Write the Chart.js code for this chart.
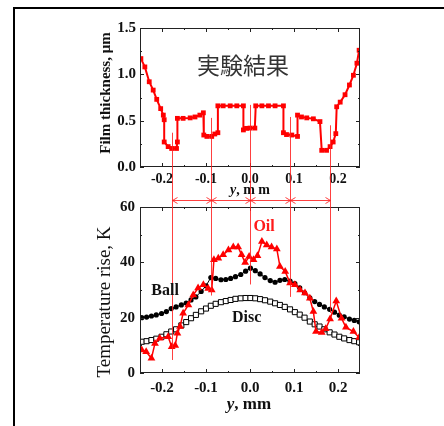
<!DOCTYPE html>
<html><head><meta charset="utf-8">
<script src="https://cdn.jsdelivr.net/npm/chart.js@4"></script>
<style>
html,body{margin:0;padding:0;background:#fff;}
#wrap{position:relative;width:444px;height:426px;overflow:hidden;background:#fff;}
#frame{position:absolute;left:13px;top:7px;width:600px;height:600px;border-top:2px solid #000;border-left:2px solid #000;}
canvas{position:absolute;left:0;top:0;}
</style></head><body>
<div id="wrap"><div id="frame"></div><canvas id="c1" width="444" height="426"></canvas><canvas id="c2" width="444" height="426"></canvas></div>
<script>
// ---- data ----
const filmX = [-0.248,-0.239,-0.229,-0.220,-0.212,-0.203,-0.197,-0.195,-0.195,-0.186,-0.178,-0.167,-0.165,-0.165,-0.152,-0.136,-0.125,-0.114,-0.106,-0.105,-0.098,-0.087,-0.080,-0.073,-0.073,-0.061,-0.045,-0.030,-0.015,-0.015,-0.008,0.000,0.011,0.013,0.027,0.042,0.057,0.076,0.076,0.083,0.095,0.108,0.108,0.117,0.129,0.144,0.159,0.163,0.174,0.182,0.189,0.195,0.197,0.205,0.216,0.226,0.235,0.243,0.248];
const filmY = [1.17,1.08,0.92,0.83,0.73,0.63,0.56,0.51,0.27,0.22,0.20,0.20,0.27,0.525,0.525,0.53,0.54,0.56,0.585,0.345,0.33,0.33,0.356,0.37,0.66,0.66,0.66,0.66,0.66,0.40,0.417,0.42,0.42,0.66,0.66,0.66,0.66,0.66,0.37,0.35,0.345,0.33,0.56,0.54,0.53,0.52,0.49,0.18,0.18,0.22,0.27,0.36,0.65,0.70,0.78,0.885,0.99,1.12,1.26];

const oilX = [-0.246,-0.236,-0.224,-0.216,-0.205,-0.186,-0.178,-0.170,-0.165,-0.159,-0.152,-0.140,-0.129,-0.118,-0.106,-0.095,-0.087,-0.082,-0.072,-0.061,-0.049,-0.038,-0.027,-0.019,-0.011,-0.002,0.008,0.017,0.027,0.038,0.049,0.061,0.068,0.080,0.091,0.102,0.114,0.125,0.136,0.144,0.150,0.163,0.172,0.182,0.196,0.208,0.218,0.235,0.248];
const oilY = [8.3,7.7,5.3,10.7,12.6,13.1,9.5,9.9,14.4,16.8,21.6,24.6,28.2,30.7,31.9,30.5,30.0,40.9,41.5,42.7,44.5,45.5,45.5,42.7,39.9,42.1,40.9,42.4,47.5,46.3,45.5,44.8,38.5,36.7,32.5,31.9,30.0,28.9,27.0,22.2,15.0,14.6,16.0,19.5,26.0,19.8,16.5,15.0,12.8];

const ballX = [-0.246,-0.235,-0.224,-0.213,-0.201,-0.190,-0.179,-0.168,-0.156,-0.145,-0.134,-0.123,-0.111,-0.100,-0.089,-0.078,-0.066,-0.055,-0.044,-0.033,-0.021,-0.010,0.001,0.012,0.023,0.034,0.046,0.057,0.068,0.079,0.091,0.102,0.113,0.124,0.136,0.147,0.158,0.169,0.181,0.192,0.203,0.214,0.226,0.237,0.248];
const ballY = [20.0,20.2,20.6,21.0,21.5,22.2,23.3,23.9,24.6,25.3,26.4,27.5,29.5,31.5,34.5,34.2,33.7,33.8,34.2,34.8,35.6,36.8,37.9,37.0,35.8,34.5,33.4,32.8,33.5,33.8,33.2,32.3,30.8,29.0,27.2,25.8,24.8,23.9,23.0,22.0,20.9,20.3,19.5,19.0,18.5];

const discX = [-0.246,-0.235,-0.224,-0.213,-0.201,-0.190,-0.179,-0.168,-0.156,-0.145,-0.134,-0.123,-0.111,-0.100,-0.089,-0.078,-0.066,-0.055,-0.044,-0.033,-0.021,-0.010,0.001,0.012,0.023,0.034,0.046,0.057,0.068,0.079,0.091,0.102,0.113,0.124,0.136,0.147,0.158,0.169,0.181,0.192,0.203,0.214,0.226,0.237,0.248];
const discY = [11.3,11.5,11.9,12.4,13.1,14.0,15.0,15.8,17.2,18.4,19.8,21.0,22.3,23.3,24.3,25.0,25.6,26.0,26.4,26.8,27.0,27.1,27.1,27.0,26.7,26.3,25.8,25.2,24.6,23.9,23.0,22.0,21.1,20.0,18.6,17.6,16.8,15.8,14.7,13.9,13.1,12.5,11.9,11.5,11.1];

const xTickLabels = [-0.2,-0.1,0.0,0.1,0.2];
const filmTicks = [0,0.5,1.0,1.5];
const tempTicks = [0,20,40,60];

// vertical guide lines: x position, start on film axis, end on temperature axis
const guideX = [-0.177,-0.088,0.0,0.09,0.182];
const guideTop = [0.37,0.53,0.67,0.54,0.45];
const guideBottom = [4.7,28,32,27.5,21.7];
const arrowLevel = 62.4; // on temperature axis (above plot)

const pts = (xs, ys) => xs.map((x, i) => ({x, y: ys[i]}));
const SERIF = '"Liberation Serif","Times New Roman",serif';

function frameTicks(chart, xMaj, xMin, yMaj, yMin) {
  const {ctx, chartArea: a, scales: {x, y}} = chart;
  ctx.save();
  ctx.strokeStyle = '#222'; ctx.lineWidth = 1;
  ctx.strokeRect(Math.round(a.left) + 0.5, Math.round(a.top) + 0.5, Math.round(a.right - a.left) - 1, Math.round(a.bottom - a.top) - 1);
  ctx.beginPath();
  const vx = (v, L) => { const p = Math.round(x.getPixelForValue(v)) + 0.5;
    ctx.moveTo(p, a.bottom); ctx.lineTo(p, a.bottom - L); ctx.moveTo(p, a.top); ctx.lineTo(p, a.top + L); };
  const vy = (v, L) => { const p = Math.round(y.getPixelForValue(v)) + 0.5;
    ctx.moveTo(a.left, p); ctx.lineTo(a.left + L, p); ctx.moveTo(a.right, p); ctx.lineTo(a.right - L, p); };
  xMaj.forEach(v => vx(v, 4)); xMin.forEach(v => vx(v, 2));
  yMaj.forEach(v => vy(v, 4)); yMin.forEach(v => vy(v, 2));
  ctx.stroke();
  ctx.restore();
}

function mixedTitle(ctx, cx, cy, size, rest) {
  const a = 'y', b = rest;
  ctx.save();
  ctx.fillStyle = '#111'; ctx.textBaseline = 'middle'; ctx.textAlign = 'left';
  ctx.font = `italic bold ${size}px ${SERIF}`; const wa = ctx.measureText(a).width;
  ctx.font = `bold ${size}px ${SERIF}`; const wb = ctx.measureText(b).width;
  const x0 = cx - (wa + wb) / 2;
  ctx.font = `italic bold ${size}px ${SERIF}`; ctx.fillText(a, x0, cy);
  ctx.font = `bold ${size}px ${SERIF}`; ctx.fillText(b, x0 + wa, cy);
  ctx.restore();
}

function fixedTicks(list) { return s => { s.ticks = list.map(v => ({value: v})); }; }

const topPlugin = {
  id: 'topDeco',
  afterDatasetsDraw(chart) {
    frameTicks(chart, xTickLabels, [-0.15,-0.05,0.05,0.15], filmTicks, [0.25,0.75,1.25]);
    const {ctx, scales: {x, y}} = chart;
    ctx.save();
    ctx.fillStyle = '#333';
    ctx.font = '23px "Noto Sans CJK JP", sans-serif';
    ctx.textAlign = 'center'; ctx.textBaseline = 'middle';
    ctx.fillText('実験結果', x.getPixelForValue(-0.016), y.getPixelForValue(1.10));
    // y title
    ctx.translate(106, 93); ctx.rotate(-Math.PI / 2);
    ctx.fillStyle = '#111';
    ctx.font = `bold 15px ${SERIF}`;
    ctx.fillText('Film thickness, \u03bcm', 0, 0);
    ctx.restore();
    mixedTitle(ctx, 250, 190, 14, ', m m');
  }
};

const topChart = new Chart(document.getElementById('c1'), {
  type: 'scatter',
  data: { datasets: [{
    data: pts(filmX, filmY), showLine: true, borderColor: '#ff0000', backgroundColor: '#ff0000',
    borderWidth: 2, pointStyle: 'rect', pointRadius: 3.4, pointBorderWidth: 0
  }]},
  options: {
    responsive: false, animation: false, devicePixelRatio: 1,
    layout: { padding: { left: 97, right: 84, top: 28, bottom: 239 } },
    plugins: { legend: { display: false }, tooltip: { enabled: false } },
    scales: {
      x: { type: 'linear', min: -0.25, max: 0.25, afterBuildTicks: fixedTicks(xTickLabels),
           afterFit: s => { s.height = 20; },
           grid: { display: false, drawTicks: false }, border: { display: false },
           ticks: { padding: 4, color: '#111', font: { family: SERIF, size: 14, weight: 'bold' }, callback: v => v.toFixed(1) } },
      y: { min: 0, max: 1.5, afterBuildTicks: fixedTicks(filmTicks),
           afterFit: s => { s.width = 43; },
           grid: { display: false, drawTicks: false }, border: { display: false },
           ticks: { padding: 4, color: '#111', font: { family: SERIF, size: 15, weight: 'bold' }, callback: v => v.toFixed(1) } }
    }
  },
  plugins: [topPlugin]
});

const bottomPlugin = {
  id: 'bottomDeco',
  afterDatasetsDraw(chart) {
    frameTicks(chart, xTickLabels, [-0.15,-0.05,0.05,0.15], tempTicks, [10,30,50]);
    const {ctx, scales: {x, y}} = chart;
    const ty = topChart.scales.y;
    ctx.save();
    // guide lines
    ctx.strokeStyle = 'rgba(255,30,30,0.85)'; ctx.lineWidth = 1;
    ctx.beginPath();
    guideX.forEach((gx, i) => {
      const px = Math.round(x.getPixelForValue(gx)) + 0.5;
      ctx.moveTo(px, ty.getPixelForValue(guideTop[i]));
      ctx.lineTo(px, y.getPixelForValue(guideBottom[i]));
    });
    const ay = Math.round(y.getPixelForValue(arrowLevel)) + 0.5;
    const x0 = x.getPixelForValue(guideX[0]), x1 = x.getPixelForValue(guideX[guideX.length - 1]);
    ctx.moveTo(x0, ay); ctx.lineTo(x1, ay);
    guideX.forEach((gx, i) => {
      const px = Math.round(x.getPixelForValue(gx)) + 0.5;
      if (i > 0) { ctx.moveTo(px - 5, ay - 3); ctx.lineTo(px, ay); ctx.lineTo(px - 5, ay + 3); }
      if (i < guideX.length - 1) { ctx.moveTo(px + 5, ay - 3); ctx.lineTo(px, ay); ctx.lineTo(px + 5, ay + 3); }
    });
    ctx.stroke();
    // series labels
    ctx.textAlign = 'center'; ctx.textBaseline = 'middle';
    ctx.font = `bold 16px ${SERIF}`;
    ctx.fillStyle = '#ff1a1a';
    ctx.fillText('Oil', x.getPixelForValue(0.032), y.getPixelForValue(52.9));
    ctx.fillStyle = '#111';
    ctx.fillText('Ball', x.getPixelForValue(-0.193), y.getPixelForValue(29.8));
    ctx.fillText('Disc', x.getPixelForValue(-0.0075), y.getPixelForValue(20.0));
    // y title
    ctx.translate(105, 302); ctx.rotate(-Math.PI / 2);
    ctx.font = `19px ${SERIF}`;
    ctx.fillText('Temperature rise, K', 0, 0);
    ctx.restore();
    mixedTitle(ctx, 249, 405, 17, ', mm');
  }
};

const bottomChart = new Chart(document.getElementById('c2'), {
  type: 'scatter',
  data: { datasets: [
    { label: 'Oil', data: pts(oilX, oilY), showLine: true, borderColor: '#ff0000', backgroundColor: '#ff0000',
      borderWidth: 1.5, pointStyle: 'triangle', pointRadius: 4.5, pointBorderWidth: 0 },
    { label: 'Ball', data: pts(ballX, ballY), showLine: true, borderColor: '#000', backgroundColor: '#000',
      borderWidth: 1, pointStyle: 'circle', pointRadius: 2.6, pointBorderWidth: 0 },
    { label: 'Disc', data: pts(discX, discY), showLine: true, borderColor: '#000', backgroundColor: '#fff',
      borderWidth: 1, pointStyle: 'rect', pointRadius: 3.6, pointBorderWidth: 1 }
  ]},
  options: {
    responsive: false, animation: false, devicePixelRatio: 1,
    layout: { padding: { left: 97, right: 84, top: 207, bottom: 28 } },
    plugins: { legend: { display: false }, tooltip: { enabled: false } },
    scales: {
      x: { type: 'linear', min: -0.25, max: 0.25, afterBuildTicks: fixedTicks(xTickLabels),
           afterFit: s => { s.height = 25; },
           grid: { display: false, drawTicks: false }, border: { display: false },
           ticks: { padding: 6, color: '#111', font: { family: SERIF, size: 15, weight: 'bold' }, callback: v => v.toFixed(1) } },
      y: { min: 0, max: 60, afterBuildTicks: fixedTicks(tempTicks),
           afterFit: s => { s.width = 43; },
           grid: { display: false, drawTicks: false }, border: { display: false },
           ticks: { padding: 5, color: '#111', font: { family: SERIF, size: 15, weight: 'bold' }, callback: v => String(v) } }
    }
  },
  plugins: [bottomPlugin]
});
</script>
</body></html>
